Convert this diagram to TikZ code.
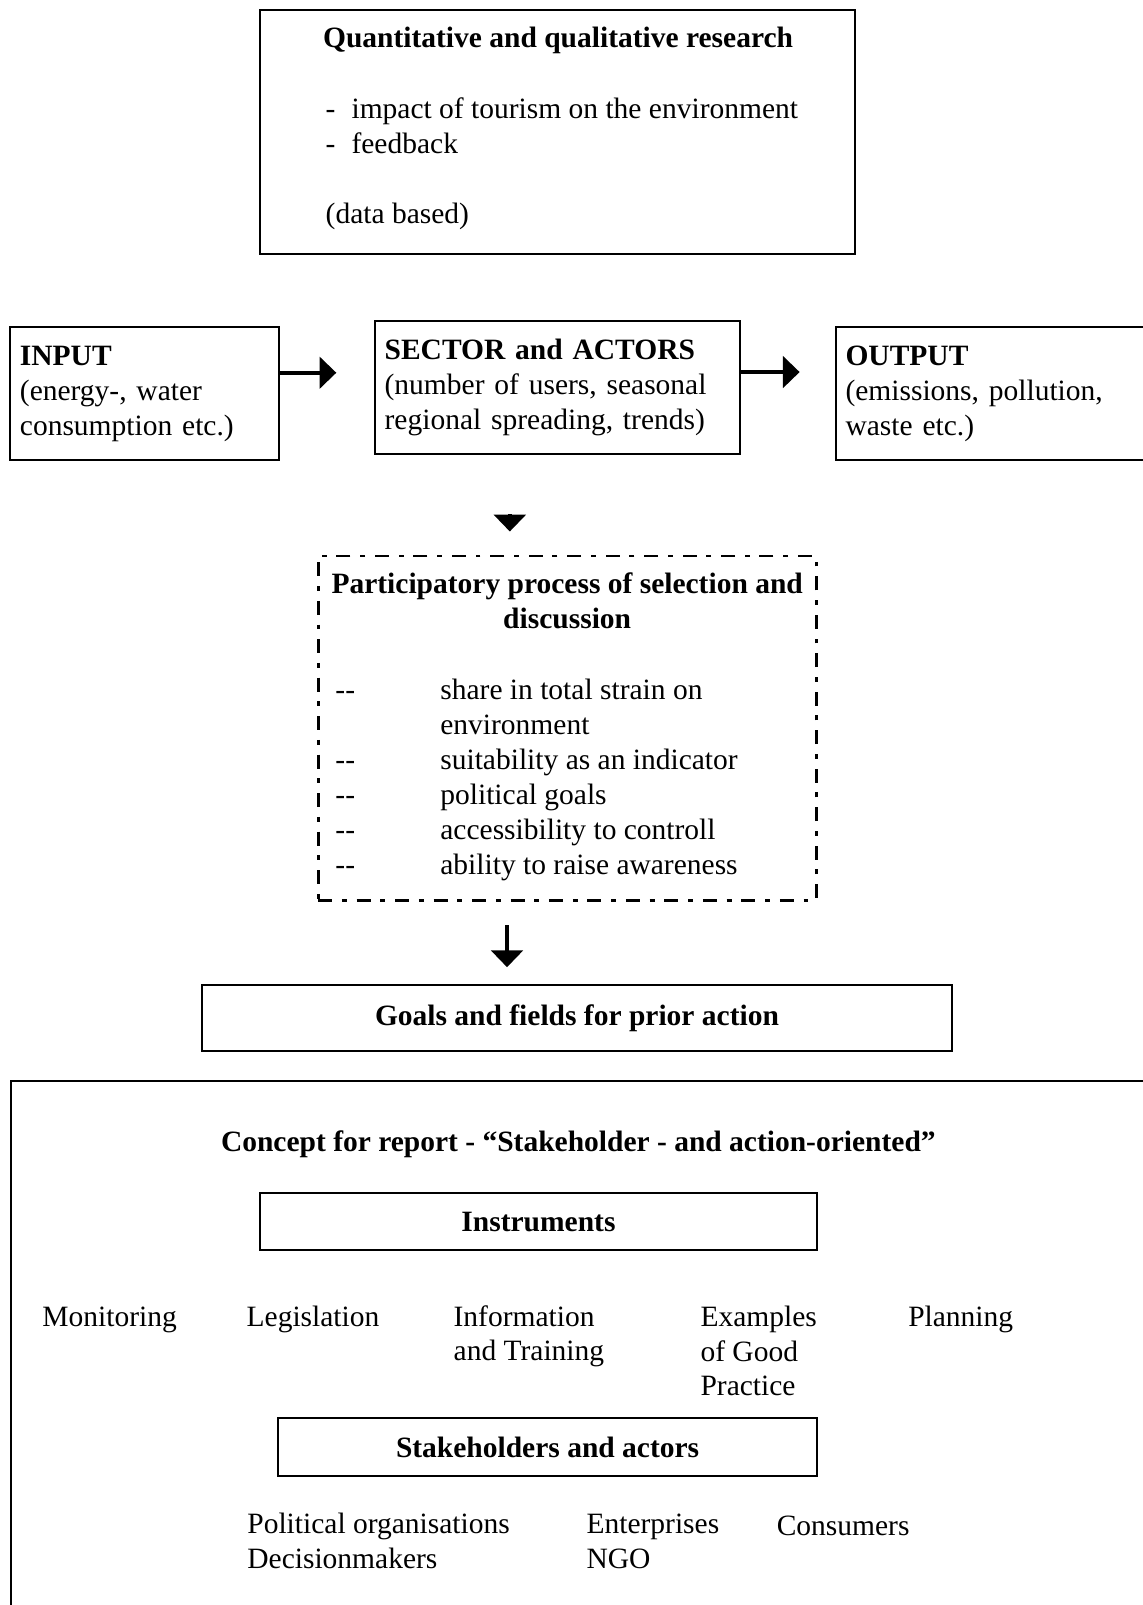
\documentclass[tikz,border=0pt]{standalone}
\usepackage{fontspec}
\setmainfont{Liberation Serif}
\usetikzlibrary{arrows.meta,positioning}
\newcommand\dashitem[1]{\makebox[1.5cm][l]{-{}-}#1}
\newcommand\minusitem[1]{\makebox[0.37cm][l]{-}#1}

\begin{document}
\begin{tikzpicture}[x=1cm,y=1cm,font=\fontsize{12}{14.2}\selectfont,
  bold/.style={font=\fontsize{12}{14.2}\selectfont\bfseries},
  box/.style={draw,line width=.8pt,inner sep=0pt},
  txt/.style={inner sep=0pt,align=left},
  frametxt/.style={draw,line width=.8pt,inner xsep=0.14cm,inner ysep=0pt,text width=#1,align=left},
  dashdot/.style={draw,line width=1.2pt,dash pattern=on 0.2cm off 0.14cm on 0.07cm off 0.14cm},
  arr/.style={-{Triangle[length=0.24cm,width=0.45cm]},line width=1.5pt}]
\useasboundingbox (0,0) rectangle (16.33,-22.95);

% research box
\node[box,minimum width=8.51cm,minimum height=3.49cm] (research) at(7.97,-1.89) {};
\node[txt,bold,anchor=base] (researchtitle) at(7.98,-0.68) {Quantitative and qualitative research};
\node[txt,anchor=base west] (researchlist) at(4.65,-3.19) {\minusitem{impact of tourism on the environment}\\ \minusitem{feedback}\\[\baselineskip] (data based)};

% input / sector / output
\node[frametxt=3.57cm,minimum width=3.85cm,minimum height=1.9cm] (input) at(2.07,-5.63) {\textbf{INPUT}\\(energy-, water\\consumption etc.)};
\node[frametxt=4.94cm,minimum width=5.22cm,minimum height=1.9cm] (sector) at(7.97,-5.54) {\textbf{SECTOR and ACTORS}\\(number of users, seasonal\\regional spreading, trends)};
\node[frametxt=4.30cm,minimum width=4.58cm,minimum height=1.9cm] (output) at(14.24,-5.63) {\textbf{OUTPUT}\\(emissions, pollution,\\waste etc.)};
\draw[arr] (input.east |- 0,-5.33) -- ++(0.80,0);
\draw[arr] (sector.east |- 0,-5.32) -- ++(0.84,0);

% participatory process
\coordinate (tipa) at(7.29,-7.35);
\draw[arr] (tipa) -- ++(0,-0.25);
\node[dashdot,minimum width=7.12cm,minimum height=4.92cm] (process) at(8.11,-10.41) {};
\node[txt,bold,align=center,anchor=base] (processtitle) at(8.11,-8.98) {Participatory process of selection and\\discussion};
\node[txt,anchor=base west] (processlist) at(4.79,-12.50) {\dashitem{share in total strain on}\\ \hspace*{1.5cm}environment\\ \dashitem{suitability as an indicator}\\ \dashitem{political goals}\\ \dashitem{accessibility to controll}\\ \dashitem{ability to raise awareness}};
\coordinate (tipb) at(7.25,-13.23);
\draw[arr] (tipb) -- ++(0,-0.60);

% goals
\node[box,bold,minimum width=10.73cm,minimum height=0.94cm] (goals) at(8.25,-14.56) {Goals and fields for prior action};

% concept for report
\node[box,anchor=north west,minimum width=17cm,minimum height=8cm] (concept) at(0.14,-15.44) {};
\node[txt,bold,anchor=base] (concepttitle) at(8.27,-16.47) {Concept for report - “Stakeholder - and action-oriented”};
\node[box,bold,minimum width=7.97cm,minimum height=0.82cm] (instruments) at(7.70,-17.47) {Instruments};
\node[txt,anchor=base west] (monitoring) at(0.60,-18.97) {Monitoring};
\node[txt,anchor=base west] (legislation) at(3.52,-18.97) {Legislation};
\node[txt,anchor=base west] (information) at(6.48,-19.46) {Information\\and Training};
\node[txt,anchor=base west] (examples) at(10.01,-19.96) {Examples\\of Good\\Practice};
\node[txt,anchor=base west] (planning) at(12.98,-18.97) {Planning};
\node[box,bold,minimum width=7.71cm,minimum height=0.83cm] (stakeholders) at(7.83,-20.69) {Stakeholders and actors};
\node[txt,anchor=base west] (political) at(3.53,-22.43) {Political organisations\\Decisionmakers};
\node[txt,anchor=base west] (enterprises) at(8.38,-22.43) {Enterprises\\NGO};
\node[txt,anchor=base west] (consumers) at(11.10,-21.95) {Consumers};
\end{tikzpicture}
\end{document}
